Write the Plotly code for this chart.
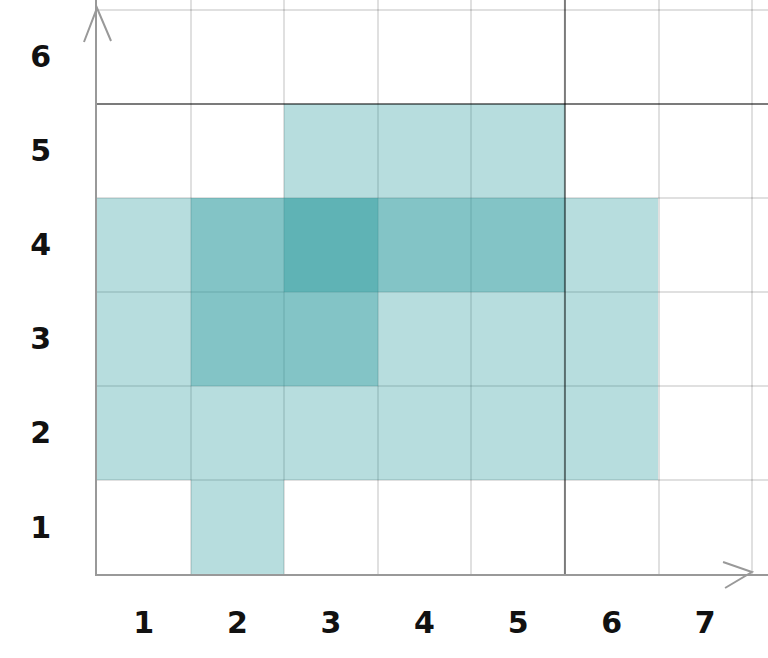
import plotly.graph_objects as go

x_labels = ["1", "2", "3", "4", "5", "6", "7"]
y_labels = ["1", "2", "3", "4", "5", "6"]
x_vals = [1, 2, 3, 4, 5, 6, 7]
y_vals = [1, 2, 3, 4, 5, 6]

# overlap count per cell (rows = y 1..6, cols = x 1..7); None = empty
layers = [
    [None, 1, None, None, None, None, None],
    [1, 1, 1, 1, 1, 1, None],
    [1, 2, 2, 1, 1, 1, None],
    [1, 2, 3, 2, 2, 1, None],
    [None, None, 1, 1, 1, None, None],
    [None, None, None, None, None, None, None],
]

highlight_x = 5.5
highlight_y = 5.5

fig = go.Figure()
fig.add_trace(go.Heatmap(
    x=x_vals, y=y_vals, z=layers,
    zmin=1, zmax=3,
    colorscale=[[0, "rgba(45,155,158,0.34)"],
                [0.5, "rgba(45,155,158,0.59)"],
                [1, "rgba(45,155,158,0.76)"]],
    showscale=False, hoverinfo="skip",
))

fig.add_shape(type="line", xref="x", yref="paper", x0=highlight_x, x1=highlight_x,
              y0=0, y1=1, line=dict(color="rgba(0,0,0,0.45)", width=2))
fig.add_shape(type="line", xref="paper", yref="y", x0=0, x1=1,
              y0=highlight_y, y1=highlight_y, line=dict(color="rgba(0,0,0,0.45)", width=2))

# arrowheads
arrow = dict(color="#999999", width=2)
fig.add_shape(type="path", xref="paper", yref="paper",
              path="M -0.0194,0.9268 L 0,0.986 L 0.0209,0.9286", line=arrow)
fig.add_shape(type="path", xref="paper", yref="paper",
              path="M 0.933,0.0209 L 0.976,0.0035 L 0.936,-0.0244", line=arrow)

grid = dict(showgrid=True, gridcolor="rgba(0,0,0,0.12)", gridwidth=2, tick0=0.5, dtick=1)
tfont = dict(family="DejaVu Sans", size=30, color="#111111", weight="bold")

fig.update_xaxes(range=[0.5, 7.67], tickvals=x_vals, ticktext=x_labels,
                 showgrid=False, zeroline=False, showline=True, linecolor="#999999",
                 linewidth=2, ticks="", ticklabelstandoff=21, automargin=False,
                 tickfont=tfont, minor=grid)
fig.update_yaxes(range=[0.5, 6.606], tickvals=y_vals, ticktext=y_labels,
                 showgrid=False, zeroline=False, showline=True, linecolor="#999999",
                 linewidth=2, ticks="", ticklabelstandoff=38, automargin=False,
                 tickfont=tfont, minor=grid)

fig.update_layout(width=768, height=658, margin=dict(l=97, r=0, t=0, b=84),
                  plot_bgcolor="white", paper_bgcolor="white", showlegend=False)

fig.write_html("out.html", config={"displayModeBar": False},
               post_script="document.body.style.margin='0';document.body.style.overflow='hidden';")
